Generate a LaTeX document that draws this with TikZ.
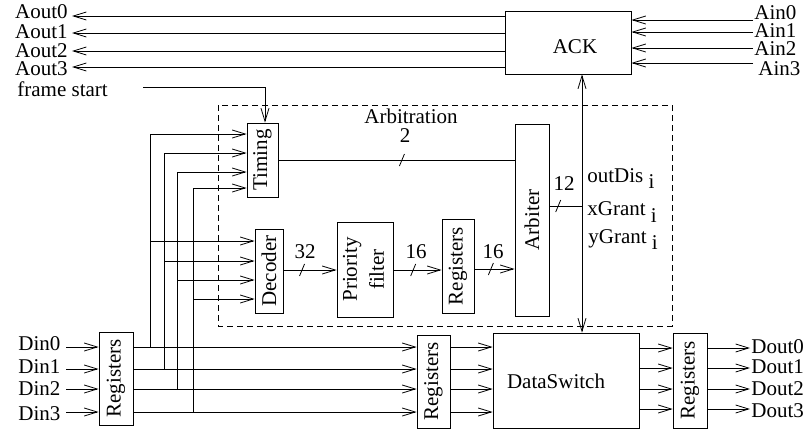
\documentclass[tikz,border=0pt]{standalone}
\usepackage{fontspec}
\setmainfont{Liberation Serif}
\usetikzlibrary{arrows.meta,calc}
\begin{document}
\begin{tikzpicture}[x=1pt,y=-1pt,line width=0.8pt,
  txt/.style={inner sep=0pt,font=\fontsize{21}{25}\selectfont},
  box/.style={draw,inner sep=0pt,font=\fontsize{21}{25}\selectfont},
  arr/.style={-{Straight Barb[length=13pt,width=8pt]}},
  dblarr/.style={{Straight Barb[length=13pt,width=8pt]}-{Straight Barb[length=13pt,width=8pt]}},
  dashbox/.style={dash pattern=on 6pt off 4pt}]
\useasboundingbox (0,0) rectangle (809,429);

% dashed arbitration region
\draw[dashbox] (218,105) rectangle (672,326);
\node[txt,anchor=base] (arbl) at (411,123) {Arbitration};

% boxes
\node[box,minimum width=126pt,minimum height=63pt] (ack) at (568,42.5) {};
\node[txt] (ackl) at ($(ack.center)+(7,4.5)$) {ACK};
\node[box,minimum width=31pt,minimum height=74pt] (timing) at (262.5,160) {\rotatebox{90}{Timing}};
\node[box,minimum width=28pt,minimum height=84pt] (dec) at (269,271) {\rotatebox{90}{Decoder}};
\node[box,minimum width=56pt,minimum height=95pt] (prio) at (365,269.5) {\rotatebox{90}{\fontsize{21}{27}\selectfont\begin{tabular}{@{}c@{}}Priority\\filter\end{tabular}}};
\node[box,minimum width=32pt,minimum height=94pt] (regI) at (458,266) {\rotatebox{90}{Registers}};
\node[box,minimum width=34pt,minimum height=192pt] (arb) at (532,220) {\rotatebox{90}{Arbiter}};
\node[box,minimum width=34pt,minimum height=93pt] (regL) at (116,378.5) {\rotatebox{90}{Registers}};
\node[box,minimum width=33pt,minimum height=93pt] (regM) at (433.5,381.5) {\rotatebox{90}{Registers}};
\node[box,minimum width=146pt,minimum height=95pt] (ds) at (566,380.5) {};
\node[txt] (dsl) at ($(ds.center)+(-10,0.5)$) {DataSwitch};
\node[box,minimum width=34pt,minimum height=95pt] (regR) at (690,380.5) {\rotatebox{90}{Registers}};

% Aout
\foreach \y/\b/\n in {16/18/0,33/38/1,51/57/2,67/75/3} {
  \node[txt,anchor=base east] (aout\n) at (68,\b) {Aout\n};
  \coordinate (aoe\n) at (72,\y);
  \draw[arr] (ack.west |- aoe\n) -- (aoe\n);
}
% Ain
\foreach \y/\b/\x/\n in {20/19/754/0,32/37/754/1,48/55/754/2,63/75/758/3} {
  \node[txt,anchor=base west] (ain\n) at (\x,\b) {Ain\n};
  \coordinate (aie\n) at (753,\y);
  \draw[arr] (aie\n) -- (ack.east |- aie\n);
}
% frame start
\node[txt,anchor=base west] (fs) at (17,96) {frame start};
\coordinate (fse) at (143,87);
\draw[arr] (fse) -| (timing.north -| 265,0);

% Din and data path
\foreach \y/\b/\n in {347/350/0,369/373/1,389/395/2,412/420/3} {
  \node[txt,anchor=base west] (din\n) at (18,\b) {Din\n};
  \coordinate (dis\n) at (66,\y);
  \draw[arr] (dis\n) -- (regL.west |- dis\n);
  \draw[arr] (regL.east |- dis\n) -- (regM.west |- dis\n);
  \draw[arr] (regM.east |- dis\n) -- (ds.west |- dis\n);
}
% Dout
\foreach \y/\b/\n in {348/353/0,368/373/1,389/395/2,409/417/3} {
  \node[txt,anchor=base west] (dout\n) at (751,\b) {Dout\n};
  \coordinate (doe\n) at (750,\y);
  \draw[arr] (ds.east |- doe\n) -- (regR.west |- doe\n);
  \draw[arr] (regR.east |- doe\n) -- (doe\n);
}
% buses to Timing and Decoder
\foreach \x/\t/\d/\y in {150/134/241/347,164/153/261/369,177/172/280/389,193/188/299/412} {
  \coordinate (bb) at (\x,\y);
  \coordinate (bd) at (\x,\d);
  \draw[arr] (bb) |- (timing.west |- 0,\t);
  \draw[arr] (bd) -- (dec.west |- bd);
}

% internal connections
\draw (timing.east) -- coordinate[pos=0.523] (s1) (arb.west |- timing.east);
\coordinate (r1) at (0,270);
\draw[arr] (dec.east |- r1) -- coordinate[pos=0.35] (s2) (prio.west |- r1);
\draw[arr] (prio.east |- r1) -- coordinate[pos=0.41] (s3) (regI.west |- r1);
\coordinate (r2) at (0,269);
\draw[arr] (regI.east |- r2) -- coordinate[pos=0.41] (s4) (arb.west |- r2);
\coordinate (vx) at (582,206);
\draw (arb.east |- vx) -- coordinate[pos=0.27] (s5) (vx);
\draw[dblarr] (ack.south -| vx) -- (ds.north -| vx);
\foreach \s in {s1,s2,s3,s4,s5} {
  \draw (\s) ++(-2.5,6) -- ++(5,-12);
}
% bus widths
\node[txt,anchor=base] (w2) at (405,142) {2};
\node[txt,anchor=base] (w32) at (305,258) {32};
\node[txt,anchor=base] (w16a) at (416,258) {16};
\node[txt,anchor=base] (w16b) at (493,258) {16};
\node[txt,anchor=base] (w12) at (564,190) {12};
% signal labels
\node[txt,anchor=base west] (od) at (587,182) {outDis \raisebox{-6pt}{i}};
\node[txt,anchor=base west] (xg) at (587,215) {xGrant \raisebox{-7pt}{i}};
\node[txt,anchor=base west] (yg) at (588,243) {yGrant \raisebox{-6pt}{i}};
\end{tikzpicture}
\end{document}
